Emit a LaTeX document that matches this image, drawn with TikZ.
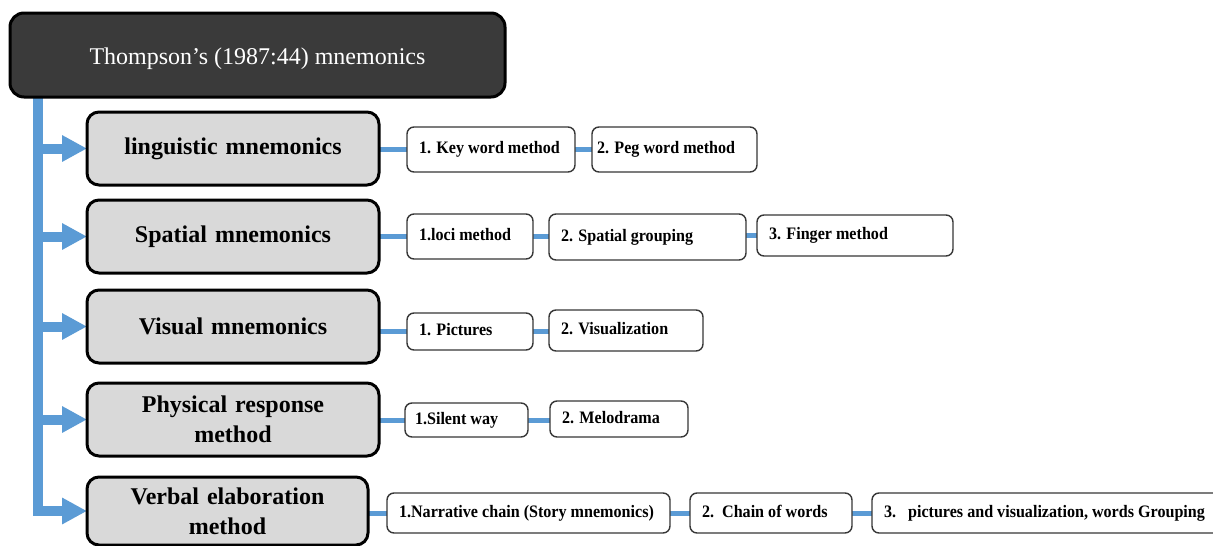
\documentclass[tikz,border=0pt]{standalone}
\usepackage{fontspec}
\setmainfont{Liberation Serif}
\newfontfamily\itemfont[FakeStretch=0.92]{Liberation Serif}
\usetikzlibrary{arrows.meta}

\definecolor{linkblue}{RGB}{91,155,213}
\definecolor{catgray}{RGB}{217,217,217}
\definecolor{titlegray}{RGB}{58,58,58}
\definecolor{itemedge}{RGB}{55,55,55}

\pgfdeclarelayer{bg}
\pgfsetlayers{bg,main}

\tikzset{
  titlebox/.style={draw=black, line width=3pt, rounded corners=14pt, fill=titlegray,
    text=white, inner sep=0pt, outer sep=0pt, font=\fontsize{24}{28}\selectfont},
  catbox/.style={draw=black, line width=3pt, rounded corners=12pt, fill=catgray,
    align=center, inner xsep=12pt, inner ysep=0pt, outer sep=0pt,
    font=\fontsize{24}{30}\selectfont\bfseries},
  itembox/.style={draw=itemedge, line width=1.4pt, rounded corners=7pt, fill=white,
    inner ysep=0pt, outer sep=0pt, text height=12pt, text depth=4pt,
    font=\itemfont\fontsize{17.5}{20}\selectfont\bfseries},
  branch/.style={draw=linkblue, line width=10pt, -{Triangle[length=25pt,width=25pt]}},
  link/.style={draw=linkblue, line width=5pt}
}

% category box: name, x1, y1, x2, y2, text
\newcommand{\mkcat}[6]{%
  \pgfmathsetmacro\bw{#4-#2}\pgfmathsetmacro\bh{#5-#3}\pgfmathsetmacro\tw{#4-#2-24}%
  \node[catbox, minimum width=\bw pt, minimum height=\bh pt, text width=\tw pt,
        anchor=north west] (#1) at (#2,#3) {#6};}
% item box: [padding], name, x1, y1, x2, y2, text
\newcommand{\mkitem}[7][12]{%
  \pgfmathsetmacro\bw{#5-#3}\pgfmathsetmacro\bh{#6-#4}\pgfmathsetmacro\tw{#5-#3-2*#1}%
  \node[itembox, minimum width=\bw pt, minimum height=\bh pt, inner xsep=#1pt,
        anchor=north west] (#2) at (#3,#4) {\makebox[\tw pt][l]{#7}};}

\begin{document}
\begin{tikzpicture}[x=1pt, y=-1pt]
\useasboundingbox (0,0) rectangle (1213,546);

% root
\node[titlebox, minimum width=495pt, minimum height=84pt, anchor=north west] (title) at (10,13)
  {\raisebox{-9.5pt}[0pt][0pt]{Thompson’s (1987:44) mnemonics}};

% categories
\mkcat{cat1}{87}{112}{379}{185}{linguistic mnemonics}
\mkcat{cat2}{87}{200}{379}{273}{Spatial mnemonics}
\mkcat{cat3}{87}{290}{379}{363}{Visual mnemonics}
\mkcat{cat4}{87}{383}{379}{456}{Physical response\\method}
\mkcat{cat5}{87}{477}{368}{545}{Verbal elaboration\\method}

% techniques
\mkitem{k1}{407}{127}{575}{172}{1. Key word method}
\mkitem[5]{k2}{592}{127}{757}{172}{2. Peg word method}

\mkitem{s1}{407}{214}{533}{259}{1.loci method}
\mkitem{s2}{549}{214}{746}{260}{2. Spatial grouping}
\mkitem{s3}{757}{215}{953}{256}{3. Finger method}

\mkitem{v1}{407}{313}{533}{350}{1. Pictures}
\mkitem{v2}{549}{310}{703}{351}{2. Visualization}

\mkitem[10]{p1}{405}{403}{528}{437}{1.Silent way}
\mkitem{p2}{550}{401}{688}{437}{2. Melodrama}

\mkitem{n1}{387}{493}{670}{533}{1.Narrative chain (Story mnemonics)}
\mkitem{n2}{690}{493}{852}{533}{2.\ \ Chain of words}
\mkitem{n3}{872}{493}{1222}{533}{3.\hspace{12pt}pictures and visualization, words Grouping}

\coordinate (t0) at (38,95);

\begin{pgfonlayer}{bg}
  \fill[white] (0,0) rectangle (1213,546);
  % trunk with the last branch, then the other branches
  \draw[branch] (t0) |- (cat5.west);
  \foreach \c in {cat1,cat2,cat3,cat4}
    \draw[branch] (t0 |- \c.west) -- (\c.west);

  % chains of techniques
  \draw[link] (cat1.east |- k1.west) -- (k1.west);
  \draw[link] (k1.east) -- (k1.east -| k2.west);
  \draw[link] (cat2.east |- s1.west) -- (s1.west);
  \draw[link] (s1.east) -- (s1.east -| s2.west);
  \draw[link] (s2.east |- s3.west) -- (s3.west);
  \draw[link] (cat3.east |- v1.west) -- (v1.west);
  \draw[link] (v1.east) -- (v1.east -| v2.west);
  \draw[link] (cat4.east |- p1.west) -- (p1.west);
  \draw[link] (p1.east) -- (p1.east -| p2.west);
  \draw[link] (cat5.east |- n1.west) -- (n1.west);
  \draw[link] (n1.east) -- (n2.west);
  \draw[link] (n2.east) -- (n3.west);
\end{pgfonlayer}
\end{tikzpicture}
\end{document}
